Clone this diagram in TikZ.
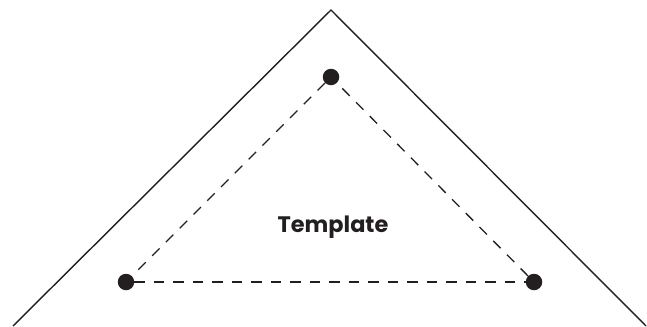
\documentclass[tikz,border=0pt]{standalone}
\usepackage{fontspec}
\setmainfont{Poppins}
\usepackage{tikz}

\definecolor{ink}{HTML}{231F20}

\begin{document}
\begin{tikzpicture}[x=1bp, y=1bp,
  dot/.style={circle, fill=ink, inner sep=0pt, minimum size=16.5bp},
  guide/.style={ink, line width=1.3bp, dash pattern=on 10.5bp off 9bp},
  edge/.style={ink, line width=1.4bp}]

\useasboundingbox (0,0) rectangle (647,326);

\coordinate (apex) at (331,316);
\coordinate (baseL) at (13,0);
\coordinate (baseR) at (646,0);
\draw[edge] (baseL) -- (apex) -- (baseR);

\node[dot] (top) at (331,249) {};
\node[dot] (left) at (126,44) {};
\node[dot] (right) at (534,44) {};

\draw[guide] (top) -- (left);
\draw[guide] (left) -- (right);
\draw[guide] (right) -- (top);

\node[anchor=base, text=ink, font=\bfseries\fontsize{22.5}{26}\selectfont, inner sep=0pt] (label) at (333,94) {Template};

\end{tikzpicture}
\end{document}
